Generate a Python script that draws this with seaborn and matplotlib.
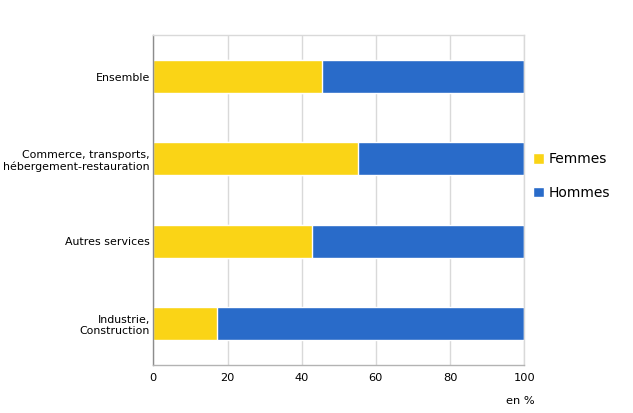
import matplotlib
matplotlib.use("Agg")
import matplotlib.pyplot as plt
import seaborn as sns
import pandas as pd
import numpy as np

categories = ["Ensemble", "Commerce, transports,\nhébergement-restauration",
              "Autres services", "Industrie,\nConstruction"]
femmes = [45.4, 55.1, 42.7, 17.3]
hommes = [100 - v for v in femmes]
xticks = [0, 20, 40, 60, 80, 100]

YELLOW = "#FAD416"
BLUE = "#296BC9"

sns.set_theme(style="white")
plt.rcParams['font.family'] = ['DejaVu Sans']
plt.rcParams['text.color'] = 'black'
plt.rcParams['xtick.color'] = 'black'
plt.rcParams['ytick.color'] = 'black'

fig = plt.figure(figsize=(6.33, 4.13), dpi=100)
ax = fig.add_axes([153.3/633, (413-365)/413, (524.3-153.3)/633, (365-35.3)/413])

df = pd.DataFrame({"cat": categories, "Femmes": femmes,
                   "Total": [f + h for f, h in zip(femmes, hommes)]})

sns.barplot(data=df, y="cat", x="Total", color=BLUE, width=0.4, ax=ax,
            orient="h", label="Hommes", saturation=1, legend=False)
sns.barplot(data=df, y="cat", x="Femmes", color=YELLOW, width=0.4, ax=ax,
            orient="h", label="Femmes", saturation=1, legend=False)

ax.set_xlim(0, 100)
ax.set_ylim(3.5, -0.5)
ax.set_xticks(xticks)
ax.set_xticklabels([str(t) for t in xticks], fontsize=8.2)
ax.set_ylabel("")
ax.set_xlabel("")
ax.tick_params(axis="y", labelsize=7.9, length=0, pad=2.5, colors="black")
ax.tick_params(axis="x", labelsize=8.2, length=0, pad=6, colors="black")
ax.xaxis.grid(True, color="#d9d9d9", linewidth=1)
ax.set_axisbelow(True)
for s in ["top", "right"]:
    ax.spines[s].set_color("#d9d9d9")
    ax.spines[s].set_linewidth(1)
ax.spines["left"].set_color("#8c8c8c")
ax.spines["bottom"].set_color("#b3b3b3")
ax.spines["left"].set_linewidth(1)
ax.spines["bottom"].set_linewidth(1)
for lab in ax.get_yticklabels():
    lab.set_horizontalalignment("right")
    lab.set_multialignment("right")

handles, labels = ax.get_legend_handles_labels()
if ax.get_legend() is not None:
    ax.get_legend().remove()
order = [labels.index("Femmes"), labels.index("Hommes")]
leg = fig.legend([handles[i] for i in order], [labels[i] for i in order],
                 loc="center left", bbox_to_anchor=(520/633, 1 - 176/413),
                 frameon=False, fontsize=10, handlelength=0.8, handleheight=0.8,
                 handletextpad=0.35, labelspacing=1.4)
for t in leg.get_texts():
    t.set_color("black")

fig.text(520/633, 1 - 401/413, "en %", ha="center", va="center", fontsize=8.2)

fig.savefig("out.png", dpi=100, facecolor="white")
